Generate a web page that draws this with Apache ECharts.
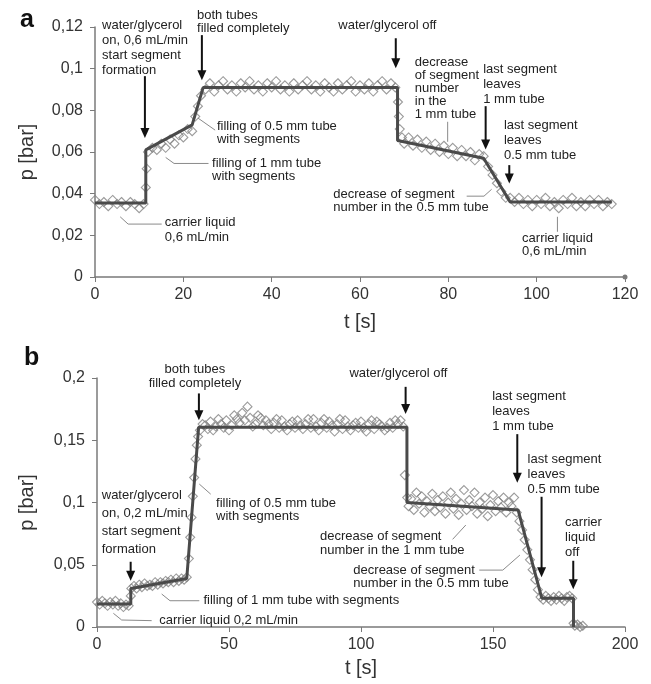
<!DOCTYPE html>
<html>
<head>
<meta charset="utf-8">
<script src="https://cdn.jsdelivr.net/npm/echarts@6/dist/echarts.min.js"></script>
<style>
  html, body { margin: 0; background: #fff; }
  #main { width: 651px; height: 684px; }
</style>
</head>
<body>
<div id="main"></div>
<script>
// ---- panel a: measured pressure (t [s], p [bar]) ----
const measuredA = [
  [0,0.037],[1,0.035],[2,0.036],[3,0.034],[4,0.037],[5,0.035],[6,0.036],[7,0.034],[8,0.036],[9,0.035],[10,0.033],[11,0.035],
  [11.5,0.043],[11.7,0.052],[12,0.060],[13,0.062],[14,0.061],[15,0.064],[16,0.062],[17,0.066],[18,0.064],[19,0.068],[20,0.067],[21,0.071],[22,0.070],
  [22.7,0.077],[23.3,0.082],[24,0.087],[25,0.090],
  [26,0.093],[27,0.089],[28,0.092],[29,0.094],[30,0.090],[31,0.092],[32,0.089],[33,0.093],[34,0.091],[35,0.094],[36,0.090],[37,0.092],[38,0.089],
  [39,0.093],[40,0.091],[41,0.094],[42,0.090],[43,0.092],[44,0.089],[45,0.093],[46,0.090],[47,0.092],[48,0.094],[49,0.090],[50,0.092],[51,0.089],
  [52,0.093],[53,0.091],[54,0.089],[55,0.093],[56,0.090],[57,0.092],[58,0.094],[59,0.089],[60,0.092],[61,0.090],[62,0.093],[63,0.089],[64,0.092],
  [65,0.094],[66,0.090],[67,0.093],[68,0.091],
  [68.6,0.084],[68.8,0.077],[69,0.071],[69.5,0.067],
  [70,0.064],[71,0.067],[72,0.063],[73,0.066],[74,0.062],[75,0.065],[76,0.061],[77,0.064],[78,0.060],[79,0.063],[80,0.059],[81,0.062],[82,0.058],
  [83,0.061],[84,0.058],[85,0.060],[86,0.056],[87,0.059],[88,0.058],
  [89,0.053],[90,0.049],[91,0.045],[92,0.041],[93,0.038],[94,0.038],
  [95,0.036],[96,0.038],[97,0.035],[98,0.037],[99,0.034],[100,0.037],[101,0.035],[102,0.038],[103,0.034],[104,0.036],[105,0.033],[106,0.037],
  [107,0.035],[108,0.038],[109,0.034],[110,0.036],[111,0.034],[112,0.037],[113,0.035],[114,0.037],[115,0.034],[116,0.036],[117,0.035]
];
// piecewise fit line of panel a
const fitA = [[0,0.0355],[11.5,0.0355],[11.5,0.061],[22,0.073],[24.5,0.091],[68.5,0.091],[68.5,0.0655],[88,0.057],[94,0.036],[117,0.036]];

// ---- panel b ----
const measuredB = [
  [0,0.020],[1,0.018],[2,0.021],[3,0.019],[4,0.017],[5,0.020],[6,0.018],[7,0.021],[8,0.017],[9,0.019],[10,0.016],[11,0.018],[12,0.017],
  [12.8,0.025],[13,0.031],[14,0.033],[15,0.031],[16,0.034],[17,0.032],[18,0.035],[19,0.033],[20,0.034],[21,0.033],[22,0.036],[23,0.034],
  [24,0.036],[25,0.035],[26,0.037],[27,0.036],[28,0.038],[29,0.036],[30,0.039],[31,0.037],[32,0.039],[33,0.038],[34,0.040],
  [34.8,0.055],[35.3,0.072],[35.8,0.088],[36.3,0.105],[36.8,0.120],[37.3,0.135],[37.8,0.146],[38.3,0.153],[39,0.158],
  [40,0.163],[41,0.162],[42,0.159],[43,0.165],[44,0.158],[45,0.161],[46,0.167],[47,0.163],[48,0.160],[49,0.166],[50,0.158],[51,0.162],
  [52,0.170],[53,0.167],[54,0.164],[55,0.172],[56,0.166],[57,0.177],[58,0.168],[59,0.161],[60,0.163],[61,0.170],[62,0.168],[63,0.162],
  [64,0.166],[65,0.163],[66,0.159],[67,0.164],[68,0.167],[69,0.160],[70,0.166],[71,0.161],[72,0.158],[73,0.163],[74,0.165],[75,0.160],
  [76,0.166],[77,0.162],[78,0.159],[79,0.163],[80,0.167],[81,0.160],[82,0.167],[83,0.161],[84,0.158],[85,0.164],[86,0.167],[87,0.160],
  [88,0.165],[89,0.162],[90,0.157],[91,0.163],[92,0.167],[93,0.159],[94,0.166],[95,0.161],[96,0.158],[97,0.162],[98,0.164],[99,0.160],
  [100,0.165],[101,0.160],[102,0.157],[103,0.163],[104,0.166],[105,0.159],[106,0.165],[107,0.163],[108,0.161],[109,0.158],[110,0.160],
  [111,0.164],[112,0.160],[113,0.166],[114,0.163],[115,0.166],[116,0.161],
  [116.6,0.122],[117.5,0.104],
  [118,0.097],[119,0.103],[120,0.094],[121,0.108],[122,0.099],[123,0.105],[124,0.092],[125,0.101],[126,0.097],[127,0.107],[128,0.093],
  [129,0.102],[130,0.096],[131,0.105],[132,0.091],[133,0.100],[134,0.108],[135,0.095],[136,0.103],[137,0.090],[138,0.099],[139,0.110],
  [140,0.094],[141,0.102],[142,0.097],[143,0.108],[144,0.091],[145,0.100],[146,0.095],[147,0.104],[148,0.089],[149,0.098],[150,0.106],
  [151,0.093],[152,0.101],[153,0.096],[154,0.104],[155,0.092],[156,0.100],[157,0.097],[158,0.104],[159,0.092],
  [160,0.085],[161,0.078],[162,0.070],[163,0.062],[164,0.054],[165,0.046],[166,0.038],[167,0.030],[168,0.024],
  [169,0.022],[170,0.025],[171,0.023],[172,0.021],[173,0.024],[174,0.022],[175,0.025],[176,0.023],[177,0.021],[178,0.024],[179,0.025],[180,0.023],
  [180.5,0.003],[181,0.001],[182,0.002],[183,0.000],[184,0.001]
];
const fitB = [[0,0.0185],[12.8,0.0185],[12.8,0.031],[34,0.039],[38.5,0.1605],[117.4,0.1605],[117.4,0.100],[159.5,0.094],[168.5,0.023],[180.5,0.023],[180.5,0]];

// annotations, anchored in data coordinates
const notesA = [
  { t: 1.6,  p: 0.1245, lh: 15, text: 'water/glycerol\non, 0,6 mL/min\nstart segment\nformation' },
  { t: 23.1, p: 0.1288, lh: 13, text: 'both tubes\nfilled completely' },
  { t: 27.6, p: 0.0752, lh: 13, text: 'filling of 0.5 mm tube\nwith segments' },
  { t: 26.5, p: 0.0576, lh: 13, text: 'filling of 1 mm tube\nwith segments' },
  { t: 15.8, p: 0.0296, lh: 15, text: 'carrier liquid\n0,6 mL/min' },
  { t: 55.1, p: 0.1240, lh: 13, text: 'water/glycerol off' },
  { t: 72.4, p: 0.1059, lh: 13, text: 'decrease\nof segment\nnumber\nin the\n1 mm tube' },
  { t: 87.9, p: 0.1034, lh: 15, text: 'last segment\nleaves\n1 mm tube' },
  { t: 92.6, p: 0.0762, lh: 15, text: 'last segment\nleaves\n0.5 mm tube' },
  { t: 53.96, p: 0.0428, lh: 13, text: 'decrease of segment\nnumber in the 0.5 mm tube' },
  { t: 96.7, p: 0.0217, lh: 13, text: 'carrier liquid\n0,6 mL/min' }
];
const arrowsA = [[11.3, 0.0964, 0.0667], [24.2, 0.1161, 0.0945], [68.1, 0.1146, 0.1002], [88.45, 0.0820, 0.0612], [93.8, 0.0537, 0.0449]];
const leadersA = [
  [[23.3,0.0763],[27.2,0.0705]],
  [[16.0,0.0574],[17.9,0.0545],[25.7,0.0545]],
  [[5.7,0.0289],[7.5,0.0254],[15.1,0.0254]],
  [[79.85,0.0745],[79.85,0.0649]],
  [[84.15,0.0388],[88.07,0.0388],[89.8,0.0421]],
  [[104.7,0.0289],[104.7,0.0217]]
];

const notesB = [
  { t: 1.8,   p: 0.1132, lh: 18, text: 'water/glycerol\non, 0,2 mL/min\nstart segment\nformation' },
  { t: 37.1,  p: 0.2124, lh: 14, text: 'both tubes\nfilled completely', align: 'center' },
  { t: 45.1,  p: 0.1045, lh: 13, text: 'filling of 0.5 mm tube\nwith segments' },
  { t: 40.3,  p: 0.0269, lh: 13, text: 'filling of 1 mm tube with segments' },
  { t: 23.6,  p: 0.0108, lh: 13, text: 'carrier liquid 0,2 mL/min' },
  { t: 95.6,  p: 0.2088, lh: 13, text: 'water/glycerol off' },
  { t: 149.7, p: 0.1909, lh: 15, text: 'last segment\nleaves\n1 mm tube' },
  { t: 163.1, p: 0.1409, lh: 15, text: 'last segment\nleaves\n0.5 mm tube' },
  { t: 177.3, p: 0.0901, lh: 15, text: 'carrier\nliquid\noff' },
  { t: 84.5,  p: 0.0787, lh: 14, text: 'decrease of segment\nnumber in the 1 mm tube' },
  { t: 97.1,  p: 0.0510, lh: 13, text: 'decrease of segment\nnumber in the 0.5 mm tube' }
];
const arrowsB = [[12.75, 0.0524, 0.0372], [38.6, 0.1876, 0.1661], [116.9, 0.1929, 0.171], [159.2, 0.1549, 0.1158], [168.4, 0.1046, 0.0399], [180.4, 0.0532, 0.0303]];
const leadersB = [
  [[38.75,0.1148],[43.07,0.1067]],
  [[24.5,0.0265],[27.65,0.0211],[38.75,0.0211]],
  [[6.2,0.011],[9.35,0.0056],[20.7,0.0051]],
  [[134.7,0.0704],[139.7,0.0819]],
  [[144.8,0.0457],[153.7,0.0457],[160.2,0.0578]]
];

const FONT = 'Liberation Sans, Arial, sans-serif';
const comma = v => String(+v.toFixed(2)).replace('.', ',');

const chart = echarts.init(document.getElementById('main'), null, { renderer: 'canvas' });

const axisBase = {
  axisLine: { lineStyle: { color: '#7a7a7a', width: 1.5 } },
  axisTick: { lineStyle: { color: '#7a7a7a', width: 1 }, length: 5 },
  splitLine: { show: false },
  axisLabel: { color: '#333', fontSize: 16, fontFamily: FONT },
  nameTextStyle: { color: '#333', fontSize: 20, fontFamily: FONT }
};

const xAxis = (gridIndex, max, interval, gap, arrow) => ({
  ...axisBase, gridIndex, type: 'value', min: 0, max, interval,
  name: 't [s]', nameLocation: 'middle', nameGap: gap,
  axisLine: { ...axisBase.axisLine, symbol: arrow ? ['none', 'circle'] : 'none', symbolSize: [5, 5] },
  axisLabel: { ...axisBase.axisLabel, margin: 10 }
});
const yAxis = (gridIndex, max, interval, gap) => ({
  ...axisBase, gridIndex, type: 'value', min: 0, max, interval,
  name: 'p [bar]', nameLocation: 'middle', nameGap: gap, nameRotate: 90,
  axisLabel: { ...axisBase.axisLabel, margin: 12, formatter: comma }
});

const scatterSeries = (i, data) => ({
  type: 'scatter', xAxisIndex: i, yAxisIndex: i, data,
  symbol: 'diamond', symbolSize: 9, silent: true, z: 2,
  itemStyle: { color: 'rgba(255,255,255,0)', borderColor: '#828282', borderWidth: 1.1 }
});
const fitSeries = (i, data) => ({
  type: 'line', xAxisIndex: i, yAxisIndex: i, data,
  showSymbol: false, silent: true, z: 3,
  lineStyle: { color: '#4a4a4a', width: 3 }
});

chart.setOption({
  animation: false,
  backgroundColor: '#fff',
  grid: [
    { left: 95, right: 26, top: 27, bottom: 407 },
    { left: 97, right: 26, top: 378, bottom: 57 }
  ],
  xAxis: [xAxis(0, 120, 20, 35, true), xAxis(1, 200, 50, 31, false)],
  yAxis: [yAxis(0, 0.12, 0.02, 58), yAxis(1, 0.2, 0.05, 60)],
  series: [
    scatterSeries(0, measuredA), fitSeries(0, fitA),
    scatterSeries(1, measuredB), fitSeries(1, fitB)
  ]
});

// build annotation graphics from data coordinates
function annotate(gi, notes, arrows, leaders) {
  const px = (t, p) => chart.convertToPixel({ gridIndex: gi }, [t, p]);
  const out = [];
  notes.forEach(n => {
    const [x, y] = px(n.t, n.p);
    out.push({
      type: 'text', x, y, silent: true, z: 10,
      style: { text: n.text, fontSize: 13, fontFamily: FONT, fill: '#222', lineHeight: n.lh,
               align: n.align || 'left', verticalAlign: 'top' }
    });
  });
  arrows.forEach(([t, p0, p1]) => {
    const [x, y0] = px(t, p0);
    const y1 = px(t, p1)[1];
    out.push({ type: 'line', silent: true, z: 10, shape: { x1: x, y1: y0, x2: x, y2: y1 - 8 },
               style: { stroke: '#111', lineWidth: 2 } });
    out.push({ type: 'polygon', silent: true, z: 10,
               shape: { points: [[x - 4.5, y1 - 10], [x + 4.5, y1 - 10], [x, y1]] },
               style: { fill: '#111' } });
  });
  leaders.forEach(pts => {
    out.push({ type: 'polyline', silent: true, z: 10,
               shape: { points: pts.map(d => px(d[0], d[1])) },
               style: { stroke: '#8a8a8a', lineWidth: 1, fill: null } });
  });
  return out;
}

const graphics = [
  { type: 'text', x: 20, y: 8, silent: true, style: { text: 'a', fontSize: 25, fontWeight: 'bold', fontFamily: FONT, fill: '#111' } },
  { type: 'text', x: 24, y: 346, silent: true, style: { text: 'b', fontSize: 25, fontWeight: 'bold', fontFamily: FONT, fill: '#111' } },
  ...annotate(0, notesA, arrowsA, leadersA),
  ...annotate(1, notesB, arrowsB, leadersB)
];
chart.setOption({ graphic: graphics });
</script>
</body>
</html>
